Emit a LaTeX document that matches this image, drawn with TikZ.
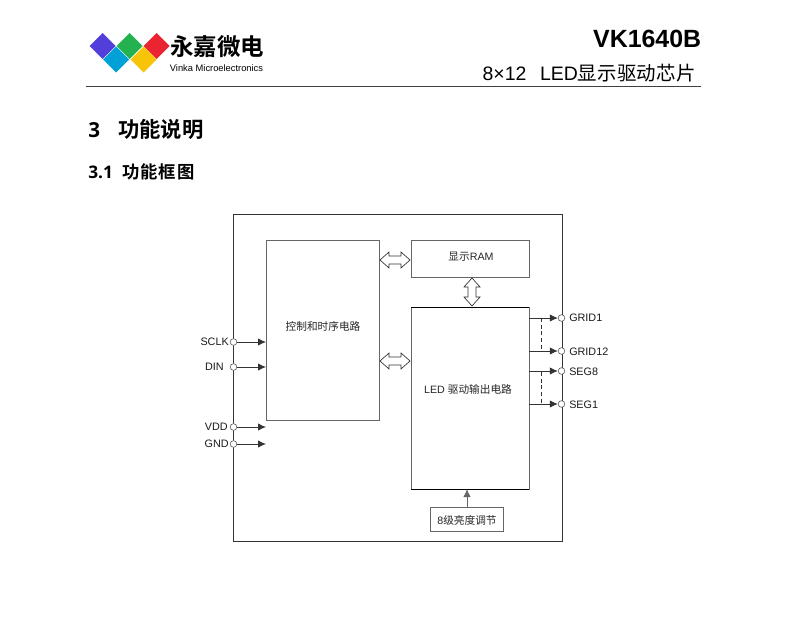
\documentclass[tikz,border=0pt]{standalone}
\usepackage{fontspec}
\setmainfont{Liberation Sans}
\newfontfamily\cjk{Noto Sans CJK SC}
\newfontfamily\cjkb{Noto Sans CJK SC Bold}
\newfontfamily\heads{Open Sans}
\usetikzlibrary{arrows.meta}
\definecolor{linegray}{HTML}{666666}
\tikzset{
  x=0.75pt,y=-0.75pt,
  blockbox/.style={draw=linegray,line width=0.6pt,inner sep=0pt,outer sep=0pt,anchor=north west,fill=white},
  pin/.style={circle,draw=linegray,fill=white,line width=0.5pt,minimum size=5pt,inner sep=0pt},
  sig/.style={draw=black!80,line width=0.6pt,-{Latex[length=6pt,width=5.5pt]}},
  pinlabel/.style={font=\fontsize{8.1pt}{9pt}\selectfont,inner sep=0pt,text=black!90},
  blocktext/.style={font=\fontsize{8pt}{9pt}\selectfont,text=black!85,inner sep=0pt},
  bus/.style={draw=black!80,fill=white,line width=0.5pt,line join=miter},
}
\newcommand{\hbus}[2]{% centre x, y
  \draw[bus] (#1-15,#2) -- (#1-6,#2-8) -- (#1-6,#2-4) -- (#1+6,#2-4) -- (#1+6,#2-8) -- (#1+15,#2) -- (#1+6,#2+8) -- (#1+6,#2+4) -- (#1-6,#2+4) -- (#1-6,#2+8) -- cycle;}
\begin{document}
\begin{tikzpicture}
\useasboundingbox (0,0) rectangle (791,635);
% logo
\fill[fill={rgb,255:red,82;green,62;blue,219}] (102.5,33) -- (115.5,46) -- (102.5,59) -- (89.5,46) -- cycle;
\fill[fill={rgb,255:red,36;green,178;blue,80}] (129.5,33) -- (142.5,46) -- (129.5,59) -- (116.5,46) -- cycle;
\fill[fill={rgb,255:red,234;green,36;blue,48}] (156.5,33) -- (169.5,46) -- (156.5,59) -- (143.5,46) -- cycle;
\fill[fill={rgb,255:red,0;green,161;blue,214}] (116,46.5) -- (129,59.5) -- (116,72.5) -- (103,59.5) -- cycle;
\fill[fill={rgb,255:red,248;green,196;blue,10}] (143.5,46.5) -- (156.5,59.5) -- (143.5,72.5) -- (130.5,59.5) -- cycle;
\node[anchor=center,inner sep=0pt] (logocn) at (217,47) {\cjkb\fontsize{17.6pt}{18pt}\selectfont 永嘉微电};
\node[anchor=center,inner sep=0pt] (logoen) at (216.5,68) {\fontsize{7pt}{8pt}\selectfont Vinka Microelectronics};
% header
\node[anchor=east,inner sep=0pt] (chip) at (701.5,39) {\bfseries\fontsize{18.7pt}{20pt}\selectfont VK1640B};
\node[anchor=east,inner sep=0pt] (sub) at (696,73) {\fontsize{14.6pt}{16pt}\selectfont 8×12\hspace{0.7em}LED{\cjk\addfontfeature{LetterSpace=1}显示驱动芯片}};
\draw[draw=black!75,line width=0.6pt] (86,86) -- (701,86);
% headings
\node[anchor=west,inner sep=0pt] (h1n) at (88,130) {\heads\bfseries\fontsize{15.5pt}{16pt}\selectfont 3};
\node[anchor=west,inner sep=0pt] (h1) at (118,129) {\cjkb\fontsize{16pt}{17pt}\selectfont 功能说明};
\node[anchor=west,inner sep=0pt] (h2n) at (88,172) {\heads\bfseries\fontsize{13pt}{14pt}\selectfont 3.1};
\node[anchor=west,inner sep=0pt] (h2) at (122,172) {\cjkb\fontsize{13pt}{14pt}\selectfont\addfontfeature{LetterSpace=6}功能框图};
% frame
\draw[draw=black!80,line width=0.7pt] (233.6,214.6) rectangle (562,541);
% blocks
\node[blockbox,minimum width=84.75pt,minimum height=135pt] (ctrl) at (266,240.3) {};
\node[blocktext] at (323,326) {\cjk 控制和时序电路};
\node[blockbox,minimum width=88.5pt,minimum height=28pt] (ram) at (411.3,240.3) {};
\node[blocktext] at (471,257) {{\cjk 显示}RAM};
\node[blockbox,minimum width=88.5pt,minimum height=136.5pt] (drv) at (411.3,307.3) {};
\draw[black,line width=0.8pt] (drv.north west) -- (drv.north east);
\draw[black,line width=0.8pt] (drv.south west) -- (drv.south east);
\node[blocktext] at (468,389) {LED {\cjk 驱动输出电路}};
\node[blockbox,minimum width=54.75pt,minimum height=18pt] (bright) at (430.3,507.3) {};
\node[blocktext] at (467,520) {8{\cjk 级亮度调节}};
% buses
\hbus{395}{260}
\hbus{395}{361}
\draw[bus] (472,278) -- (480,287) -- (476,287) -- (476,297) -- (480,297) -- (472,306) -- (464,297) -- (468,297) -- (468,287) -- (464,287) -- cycle;
% brightness arrow
\draw[sig,draw=linegray] (467,507) -- (467,489);
% left pins
\coordinate (c1) at (266,342);
\coordinate (c2) at (266,367);
\coordinate (vddEnd) at (266,427);
\coordinate (gndEnd) at (266,444);
\node[pin] (psclk) at (233.5,342) {};
\node[pin] (pdin) at (233.5,367) {};
\node[pin] (pvdd) at (233.5,427) {};
\node[pin] (pgnd) at (233.5,444) {};
\draw[sig] (psclk) -- (c1);
\draw[sig] (pdin) -- (c2);
\draw[sig] (pvdd) -- (vddEnd);
\draw[sig] (pgnd) -- (gndEnd);
\node[pinlabel,anchor=east] at (229,342) {SCLK};
\node[pinlabel,anchor=east] at (224,367) {DIN};
\node[pinlabel,anchor=east] at (228,427) {VDD};
\node[pinlabel,anchor=east] at (229,444) {GND};
% right pins
\node[pin] (pg1) at (561.5,318) {};
\node[pin] (pg12) at (561.5,351) {};
\node[pin] (ps8) at (561.5,371) {};
\node[pin] (ps1) at (561.5,404) {};
\coordinate (dg1) at (529,318);
\coordinate (dg12) at (529,351);
\coordinate (ds8) at (529,371);
\coordinate (ds1) at (529,404);
\draw[sig] (dg1) -- (pg1);
\draw[sig] (dg12) -- (pg12);
\draw[sig] (ds8) -- (ps8);
\draw[sig] (ds1) -- (ps1);
\draw[densely dashed,line width=0.5pt,black!80] (541.5,318) -- (541.5,350);
\draw[densely dashed,line width=0.5pt,black!80] (541.5,372) -- (541.5,403);
\node[pinlabel,anchor=west] at (569,317.5) {GRID1};
\node[pinlabel,anchor=west] at (569,351.5) {GRID12};
\node[pinlabel,anchor=west] at (569,371.5) {SEG8};
\node[pinlabel,anchor=west] at (569,404.5) {SEG1};
\end{tikzpicture}
\end{document}
